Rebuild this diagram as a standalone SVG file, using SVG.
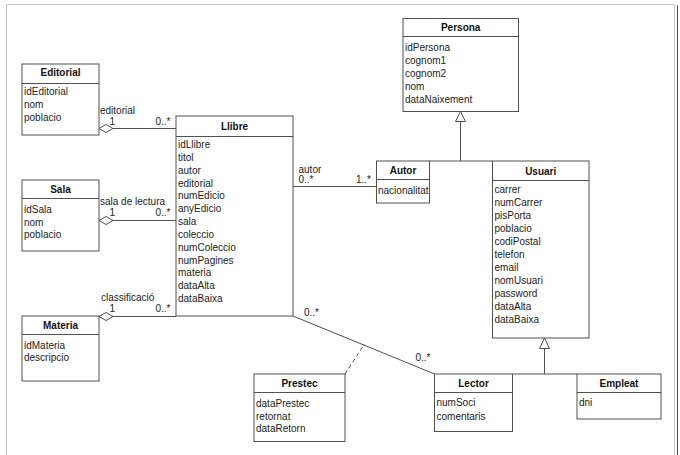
<svg xmlns="http://www.w3.org/2000/svg" width="680" height="455" viewBox="0 0 680 455">
<style>
.box{fill:#fff;stroke:#505050;stroke-width:1}
.sep{stroke:#505050;stroke-width:1}
.t{font-family:"Liberation Sans",Arial,sans-serif;font-size:10px;font-weight:bold;fill:#111;text-anchor:middle}
.a{font-family:"Liberation Sans",Arial,sans-serif;font-size:10px;fill:#222}
.l{fill:none;stroke:#505050;stroke-width:1}
.d{fill:#fff;stroke:#505050;stroke-width:1}
.frame{stroke:#c8c8c8;stroke-width:1;fill:none}
</style>
<rect width="680" height="455" fill="#fff"/>
<g id="frame">
<path class="frame" d="M6.5,455 V4.5 H674.5 V455"/>
<line x1="677.5" y1="5" x2="677.5" y2="455" stroke="#555" stroke-width="1"/>
</g>
<g id="connectors">
<line class="l" x1="113" y1="128.5" x2="176" y2="128.5"/>
<polygon class="d" points="99,128.5 106,124.5 113,128.5 106,132.5"/>
<line class="l" x1="113" y1="220.5" x2="176" y2="220.5"/>
<polygon class="d" points="99,220.5 106,216.5 113,220.5 106,224.5"/>
<line class="l" x1="113" y1="316.5" x2="176" y2="316.5"/>
<polygon class="d" points="99,316.5 106,312.5 113,316.5 106,320.5"/>
<line class="l" x1="293" y1="186.5" x2="376.5" y2="186.5"/>
<line class="l" x1="460.5" y1="121.5" x2="460.5" y2="161"/>
<line class="l" x1="429.5" y1="161" x2="492.5" y2="161"/>
<polygon class="d" points="460.5,111.5 455.5,121.5 465.5,121.5"/>
<line class="l" x1="544.5" y1="348.5" x2="544.5" y2="374"/>
<line class="l" x1="512.5" y1="374" x2="577" y2="374"/>
<polygon class="d" points="544.5,338 539.5,348.5 549.5,348.5"/>
<line class="l" x1="293" y1="316" x2="434.5" y2="374"/>
<line class="l" x1="345" y1="374" x2="364.5" y2="344" stroke-dasharray="4,3"/>
<text class="a" x="100" y="114">editorial</text>
<text class="a" x="109.5" y="124.5">1</text>
<text class="a" x="155.5" y="124.5">0..*</text>
<text class="a" x="100" y="205">sala de lectura</text>
<text class="a" x="109.5" y="215.5">1</text>
<text class="a" x="155.5" y="215.5">0..*</text>
<text class="a" x="101" y="301">classificació</text>
<text class="a" x="109.5" y="311.5">1</text>
<text class="a" x="155.5" y="311.5">0..*</text>
<text class="a" x="298.5" y="172.5">autor</text>
<text class="a" x="298.5" y="182.5">0..*</text>
<text class="a" x="356" y="182.5">1..*</text>
<text class="a" x="304" y="316">0..*</text>
<text class="a" x="415.5" y="361">0..*</text>
</g>
<g id="Editorial">
<rect class="box" x="22" y="64" width="77" height="71"/>
<line class="sep" x1="22" y1="83.5" x2="99" y2="83.5"/>
<text class="t" x="60.5" y="76">Editorial</text>
<text class="a" x="24" y="94.5">idEditorial</text>
<text class="a" x="24" y="107.5">nom</text>
<text class="a" x="24" y="120.5">poblacio</text>
</g>
<g id="Sala">
<rect class="box" x="22" y="180" width="77" height="71"/>
<line class="sep" x1="22" y1="198.5" x2="99" y2="198.5"/>
<text class="t" x="60.5" y="192.5">Sala</text>
<text class="a" x="24" y="212.5">idSala</text>
<text class="a" x="24" y="225.5">nom</text>
<text class="a" x="24" y="238">poblacio</text>
</g>
<g id="Materia">
<rect class="box" x="22" y="316" width="77" height="65"/>
<line class="sep" x1="22" y1="334.5" x2="99" y2="334.5"/>
<text class="t" x="60.5" y="329">Materia</text>
<text class="a" x="24" y="348.5">idMateria</text>
<text class="a" x="24" y="361">descripcio</text>
</g>
<g id="Llibre">
<rect class="box" x="176" y="116" width="117" height="200"/>
<line class="sep" x1="176" y1="136.5" x2="293" y2="136.5"/>
<text class="t" x="234.5" y="130">Llibre</text>
<text class="a" x="178" y="148">idLlibre</text>
<text class="a" x="178" y="160.8">titol</text>
<text class="a" x="178" y="173.6">autor</text>
<text class="a" x="178" y="186.5">editorial</text>
<text class="a" x="178" y="199.3">numEdicio</text>
<text class="a" x="178" y="212.1">anyEdicio</text>
<text class="a" x="178" y="225">sala</text>
<text class="a" x="178" y="237.8">coleccio</text>
<text class="a" x="178" y="250.6">numColeccio</text>
<text class="a" x="178" y="263.5">numPagines</text>
<text class="a" x="178" y="276.3">materia</text>
<text class="a" x="178" y="289.1">dataAlta</text>
<text class="a" x="178" y="302">dataBaixa</text>
</g>
<g id="Persona">
<rect class="box" x="403" y="18.5" width="115.5" height="93"/>
<line class="sep" x1="403" y1="36.5" x2="518.5" y2="36.5"/>
<text class="t" x="460.7" y="31">Persona</text>
<text class="a" x="405" y="51">idPersona</text>
<text class="a" x="405" y="63.8">cognom1</text>
<text class="a" x="405" y="76.8">cognom2</text>
<text class="a" x="405" y="89.6">nom</text>
<text class="a" x="405" y="102.8">dataNaixement</text>
</g>
<g id="Autor">
<rect class="box" x="376.5" y="161" width="53" height="42"/>
<line class="sep" x1="376.5" y1="179.5" x2="429.5" y2="179.5"/>
<text class="t" x="403" y="173.5">Autor</text>
<text class="a" x="378" y="193.5">nacionalitat</text>
</g>
<g id="Usuari">
<rect class="box" x="492.5" y="161" width="96.5" height="177"/>
<line class="sep" x1="492.5" y1="180.5" x2="589" y2="180.5"/>
<text class="t" x="540.7" y="174.5">Usuari</text>
<text class="a" x="494.5" y="192.8">carrer</text>
<text class="a" x="494.5" y="205.8">numCarrer</text>
<text class="a" x="494.5" y="218.8">pisPorta</text>
<text class="a" x="494.5" y="231.8">poblacio</text>
<text class="a" x="494.5" y="244.8">codiPostal</text>
<text class="a" x="494.5" y="257.8">telefon</text>
<text class="a" x="494.5" y="270.8">email</text>
<text class="a" x="494.5" y="283.8">nomUsuari</text>
<text class="a" x="494.5" y="296.8">password</text>
<text class="a" x="494.5" y="309.8">dataAlta</text>
<text class="a" x="494.5" y="322.8">dataBaixa</text>
</g>
<g id="Prestec">
<rect class="box" x="254" y="374" width="91" height="67.5"/>
<line class="sep" x1="254" y1="392.5" x2="345" y2="392.5"/>
<text class="t" x="299.5" y="387">Prestec</text>
<text class="a" x="256" y="407">dataPrestec</text>
<text class="a" x="256" y="419.5">retornat</text>
<text class="a" x="256" y="432">dataRetorn</text>
</g>
<g id="Lector">
<rect class="box" x="434.5" y="374" width="78" height="57.5"/>
<line class="sep" x1="434.5" y1="392.5" x2="512.5" y2="392.5"/>
<text class="t" x="473.5" y="387">Lector</text>
<text class="a" x="436.5" y="406">numSoci</text>
<text class="a" x="436.5" y="419.5">comentaris</text>
</g>
<g id="Empleat">
<rect class="box" x="577" y="374" width="84" height="45"/>
<line class="sep" x1="577" y1="392.5" x2="661" y2="392.5"/>
<text class="t" x="619" y="387">Empleat</text>
<text class="a" x="579" y="406">dni</text>
</g>
</svg>
